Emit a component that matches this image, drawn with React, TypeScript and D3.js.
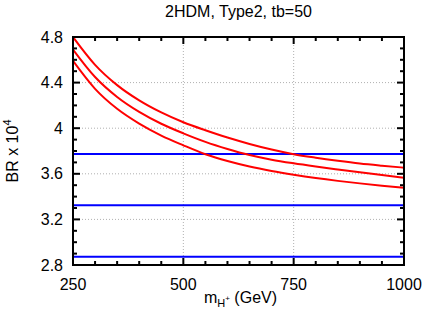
import React, { useEffect, useRef } from 'react';
import * as d3 from 'd3';

const masses = [250, 300, 350, 400, 450, 500, 550, 600, 650, 700, 750, 800, 850, 900, 950, 1000];
const brUpper = [4.8, 4.556, 4.378, 4.244, 4.138, 4.052, 3.982, 3.918, 3.862, 3.813, 3.772, 3.741, 3.714, 3.69, 3.671, 3.654];
const brCentral = [4.69, 4.449, 4.274, 4.143, 4.039, 3.955, 3.88, 3.818, 3.765, 3.724, 3.692, 3.664, 3.638, 3.613, 3.589, 3.566];
const brLower = [4.59, 4.345, 4.17, 4.04, 3.935, 3.85, 3.772, 3.712, 3.664, 3.625, 3.592, 3.563, 3.538, 3.516, 3.496, 3.478];
const expLimits = [3.774, 3.324, 2.873];
const xTicks = [250, 500, 750, 1000];
const yTicks = [2.8, 3.2, 3.6, 4, 4.4, 4.8];

const W = 426;
const H = 324;
const margin = { top: 37, right: 22, bottom: 59, left: 73 };
const font = 'Liberation Sans, Arial, sans-serif';

const App = () => {
  const ref = useRef<SVGSVGElement>(null);

  useEffect(() => {
    const svg = d3.select(ref.current);
    svg.selectAll('*').remove();

    const x = d3.scaleLinear().domain([250, 1000]).range([margin.left, W - margin.right]);
    const y = d3.scaleLinear().domain([2.8, 4.8]).range([H - margin.bottom, margin.top]);
    const [x0, x1] = x.range();
    const [y0, y1] = y.range();

    // grid
    const grid = svg.append('g').attr('stroke', '#b0b0b0').attr('stroke-width', 1).attr('stroke-dasharray', '1,2');
    xTicks.slice(1, -1).forEach((t) => {
      grid.append('line').attr('x1', x(t)).attr('x2', x(t)).attr('y1', y0).attr('y2', y1);
    });
    yTicks.slice(1, -1).forEach((t) => {
      grid.append('line').attr('x1', x0).attr('x2', x1).attr('y1', y(t)).attr('y2', y(t));
    });

    // blue horizontal limits
    svg.append('g')
      .selectAll('line')
      .data(expLimits)
      .enter()
      .append('line')
      .attr('x1', x0)
      .attr('x2', x1)
      .attr('y1', (d) => y(d))
      .attr('y2', (d) => y(d))
      .attr('stroke', '#0000ff')
      .attr('stroke-width', 2);

    // red curves
    const line = d3.line<number>()
      .x((_, i) => x(masses[i]))
      .y((d) => y(d))
      .curve(d3.curveMonotoneX);

    svg.append('defs').append('clipPath').attr('id', 'clip')
      .append('rect').attr('x', x0).attr('y', y1).attr('width', x1 - x0).attr('height', y0 - y1);

    svg.append('g')
      .attr('clip-path', 'url(#clip)')
      .selectAll('path')
      .data([brUpper, brCentral, brLower])
      .enter()
      .append('path')
      .attr('d', (d) => line(d))
      .attr('fill', 'none')
      .attr('stroke', '#ff0000')
      .attr('stroke-width', 2);

    // ticks on all four sides
    const ticks = svg.append('g').attr('stroke', '#000').attr('stroke-width', 2);
    d3.range(250, 1001, 50).forEach((t) => {
      const len = t % 250 === 0 ? 7 : 4;
      ticks.append('line').attr('x1', x(t)).attr('x2', x(t)).attr('y1', y0).attr('y2', y0 - len);
      ticks.append('line').attr('x1', x(t)).attr('x2', x(t)).attr('y1', y1).attr('y2', y1 + len);
    });
    d3.range(28, 49, 1).forEach((k) => {
      const t = k / 10;
      const len = k % 4 === 0 ? 7 : 4;
      ticks.append('line').attr('x1', x0).attr('x2', x0 + len).attr('y1', y(t)).attr('y2', y(t));
      ticks.append('line').attr('x1', x1).attr('x2', x1 - len).attr('y1', y(t)).attr('y2', y(t));
    });

    // frame
    svg.append('rect')
      .attr('x', x0).attr('y', y1)
      .attr('width', x1 - x0).attr('height', y0 - y1)
      .attr('fill', 'none').attr('stroke', '#000').attr('stroke-width', 2);

    // tick labels
    svg.append('g')
      .selectAll('text')
      .data(xTicks)
      .enter()
      .append('text')
      .attr('x', (d) => x(d))
      .attr('y', 290)
      .attr('text-anchor', 'middle')
      .attr('font-family', font)
      .attr('font-size', 16)
      .text((d) => d);

    svg.append('g')
      .selectAll('text')
      .data(yTicks)
      .enter()
      .append('text')
      .attr('x', 63)
      .attr('y', (d) => y(d))
      .attr('dy', '0.35em')
      .attr('text-anchor', 'end')
      .attr('font-family', font)
      .attr('font-size', 16)
      .text((d) => d3.format('.2~f')(d));

    // title
    svg.append('text')
      .attr('x', (x0 + x1) / 2)
      .attr('y', 17)
      .attr('text-anchor', 'middle')
      .attr('font-family', font)
      .attr('font-size', 16)
      .text('2HDM, Type2, tb=50');

    // x label
    const xl = svg.append('text')
      .attr('x', (x0 + x1) / 2 + 2)
      .attr('y', 303)
      .attr('text-anchor', 'middle')
      .attr('font-family', font)
      .attr('font-size', 16);
    xl.append('tspan').text('m');
    xl.append('tspan').attr('font-size', 11).attr('dy', 4).text('H');
    xl.append('tspan').attr('font-size', 8).attr('dy', -6).text('+');
    xl.append('tspan').attr('dy', 2).text(' (GeV)');

    // y label
    const yl = svg.append('text')
      .attr('transform', `translate(18, ${(y0 + y1) / 2}) rotate(-90)`)
      .attr('text-anchor', 'middle')
      .attr('font-family', font)
      .attr('font-size', 16);
    yl.append('tspan').text('BR x 10');
    yl.append('tspan').attr('font-size', 11).attr('dy', -7).text('4');
  }, []);

  return (
    <svg
      ref={ref}
      width={W}
      height={H}
      style={{ position: 'absolute', left: 0, top: 0, background: '#fff' }}
    />
  );
};

export default App;
